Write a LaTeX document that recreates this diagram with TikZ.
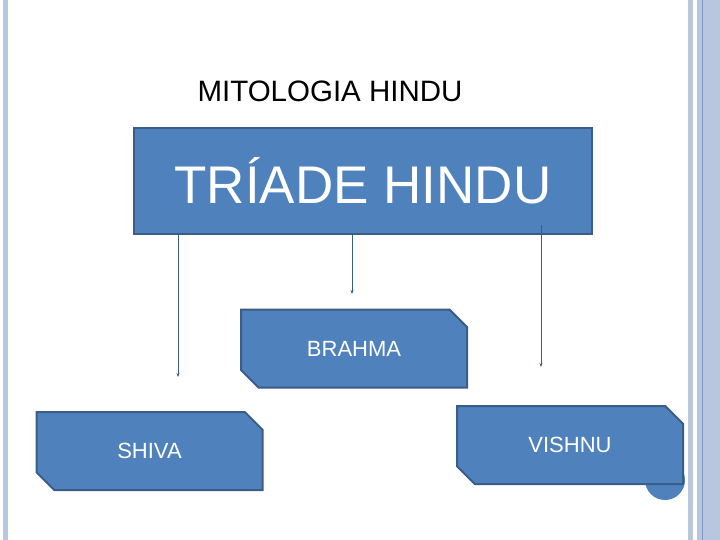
\documentclass[tikz,border=0pt]{standalone}
\usepackage{fontspec}
\setmainfont{Liberation Sans}
\usetikzlibrary{shapes.misc,arrows.meta}
\definecolor{boxfill}{HTML}{4F81BD}
\definecolor{boxline}{HTML}{3A5C88}
\definecolor{band}{HTML}{B8C7DF}
\definecolor{bandline}{HTML}{7F98C3}
\begin{document}
\begin{tikzpicture}[x=1pt,y=-1pt,
  topbox/.style={draw=boxline,fill=boxfill,line width=2pt,minimum width=458pt,minimum height=105pt,inner sep=0pt,text=white,font=\fontsize{53}{60}\selectfont},
  godbox/.style={chamfered rectangle,chamfered rectangle corners={north east,south west},chamfered rectangle xsep=10pt,chamfered rectangle ysep=10pt,draw=boxline,fill=boxfill,line width=2pt,minimum width=226pt,minimum height=78pt,inner sep=0pt,text=white,font=\fontsize{22}{26}\selectfont},
  conn/.style={draw=boxline,line width=1pt,-{Stealth[length=4pt,width=3pt]}}]
\useasboundingbox (0,0) rectangle (720,540);
\fill[white] (0,0) rectangle (720,540);
% side bands
\fill[band] (3,0) rectangle (8,540);
\fill[band] (688,0) rectangle (693,540);
\fill[band] (697,0) rectangle (720,540);
\draw[bandline,line width=0.8pt] (702,0) -- (702,540);
% hidden circle
\fill[boxfill] (665,480) circle (20);
\node[font=\fontsize{29.5}{34}\selectfont] (title) at (330,91) {MITOLOGIA HINDU};
\node[topbox] (triade) at (363,181) {TRÍADE HINDU};
\node[godbox] (brahma) at (354,348.5) {BRAHMA};
\node[godbox] (shiva) at (149.5,451) {SHIVA};
\node[godbox] (vishnu) at (570,445) {VISHNU};
\coordinate (a1) at (178,377);
\coordinate (a2) at (352,294);
\coordinate (a3s) at (541,225);
\coordinate (a3) at (541,367);
\draw[conn] (triade.south -| a1) -- (a1);
\draw[conn] (triade.south -| a2) -- (a2);
\draw[conn] (a3s) -- (a3);
\end{tikzpicture}
\end{document}
